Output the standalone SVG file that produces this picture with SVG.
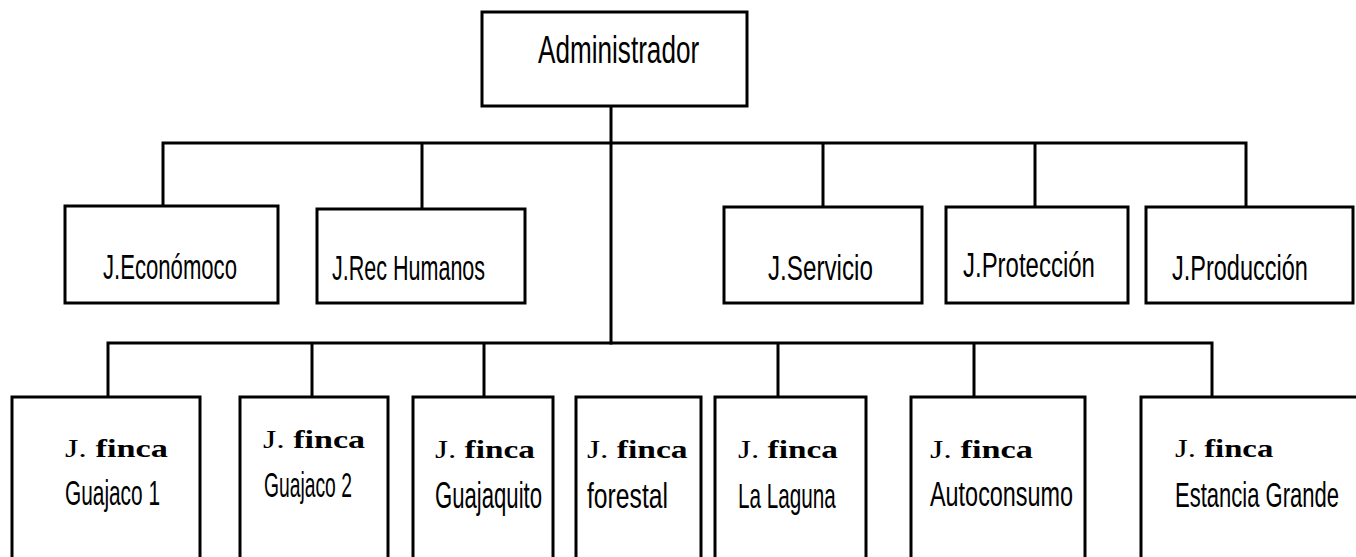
<svg xmlns="http://www.w3.org/2000/svg" width="1356" height="557" viewBox="0 0 1356 557">
<style>
.box{fill:#fff;stroke:#000;stroke-width:3}
.ln{fill:none;stroke:#000;stroke-width:3;stroke-linecap:square}
.t{font-family:"Liberation Sans",Arial,sans-serif;fill:#000}
.t1{font-size:39px}
.t2{font-size:35px}
.f1{font-family:"Liberation Serif","Times New Roman",serif;font-size:26px;fill:#000}
.f1 tspan{font-weight:bold}
.f2{font-size:36px}
</style>
<rect width="1356" height="557" fill="#fff"/>
<g id="connectors">
<path class="ln" d="M611 106V343"/>
<path class="ln" d="M163 143H1246M163 143V206M422 143V209M823 143V207M1035 143V207M1246 143V207"/>
<path class="ln" d="M108 343H1212M108 343V397M312 343V397M484 343V397M778 343V397M974 343V397M1212 343V397"/>
</g>
<g id="n-admin">
<rect class="box" x="482" y="12" width="265" height="94"/>
<text class="t t1" transform="translate(538 63) scale(0.670 1)">Administrador</text>
</g>
<g id="n-economico">
<rect class="box" x="65" y="206" width="213" height="97"/>
<text class="t t2" transform="translate(103 279) scale(0.632 1)">J.Económoco</text>
</g>
<g id="n-rechumanos">
<rect class="box" x="317" y="209" width="208" height="94"/>
<text class="t t2" transform="translate(332 280) scale(0.615 1)">J.Rec Humanos</text>
</g>
<g id="n-servicio">
<rect class="box" x="724" y="207" width="198" height="96"/>
<text class="t t2" transform="translate(768 280) scale(0.692 1)">J.Servicio</text>
</g>
<g id="n-proteccion">
<rect class="box" x="946" y="207" width="182" height="96"/>
<text class="t t2" transform="translate(963 277) scale(0.685 1)">J.Protección</text>
</g>
<g id="n-produccion">
<rect class="box" x="1146" y="207" width="207" height="96"/>
<text class="t t2" transform="translate(1172 280) scale(0.672 1)">J.Producción</text>
</g>
<g id="n-guajaco1">
<rect class="box" x="12" y="397" width="188" height="170"/>
<text class="f1" transform="translate(65 457) scale(1.32 1)">J. <tspan>finca</tspan></text>
<text class="t f2" transform="translate(65 505) scale(0.579 1)">Guajaco 1</text>
</g>
<g id="n-guajaco2">
<rect class="box" x="240" y="397" width="148" height="170"/>
<text class="f1" transform="translate(263 448) scale(1.31 1)">J. <tspan>finca</tspan></text>
<text class="t f2" transform="translate(264 497) scale(0.536 1)">Guajaco 2</text>
</g>
<g id="n-guajaquito">
<rect class="box" x="413" y="397" width="140" height="170"/>
<text class="f1" transform="translate(435 458) scale(1.28 1)">J. <tspan>finca</tspan></text>
<text class="t f2" transform="translate(435 508) scale(0.615 1)">Guajaquito</text>
</g>
<g id="n-forestal">
<rect class="box" x="576" y="397" width="125" height="170"/>
<text class="f1" transform="translate(587 458) scale(1.29 1)">J. <tspan>finca</tspan></text>
<text class="t f2" transform="translate(587 508) scale(0.686 1)">forestal</text>
</g>
<g id="n-lalaguna">
<rect class="box" x="715" y="397" width="151" height="170"/>
<text class="f1" transform="translate(738 458) scale(1.28 1)">J. <tspan>finca</tspan></text>
<text class="t f2" transform="translate(738 508) scale(0.575 1)">La Laguna</text>
</g>
<g id="n-autoconsumo">
<rect class="box" x="911" y="397" width="174" height="170"/>
<text class="f1" transform="translate(930 458) scale(1.32 1)">J. <tspan>finca</tspan></text>
<text class="t f2" transform="translate(930 506) scale(0.650 1)">Autoconsumo</text>
</g>
<g id="n-estancia">
<rect class="box" x="1141" y="397" width="230" height="170"/>
<text class="f1" transform="translate(1175 457) scale(1.26 1)">J. <tspan>finca</tspan></text>
<text class="t f2" transform="translate(1175 507) scale(0.612 1)">Estancia Grande</text>
</g>
</svg>
